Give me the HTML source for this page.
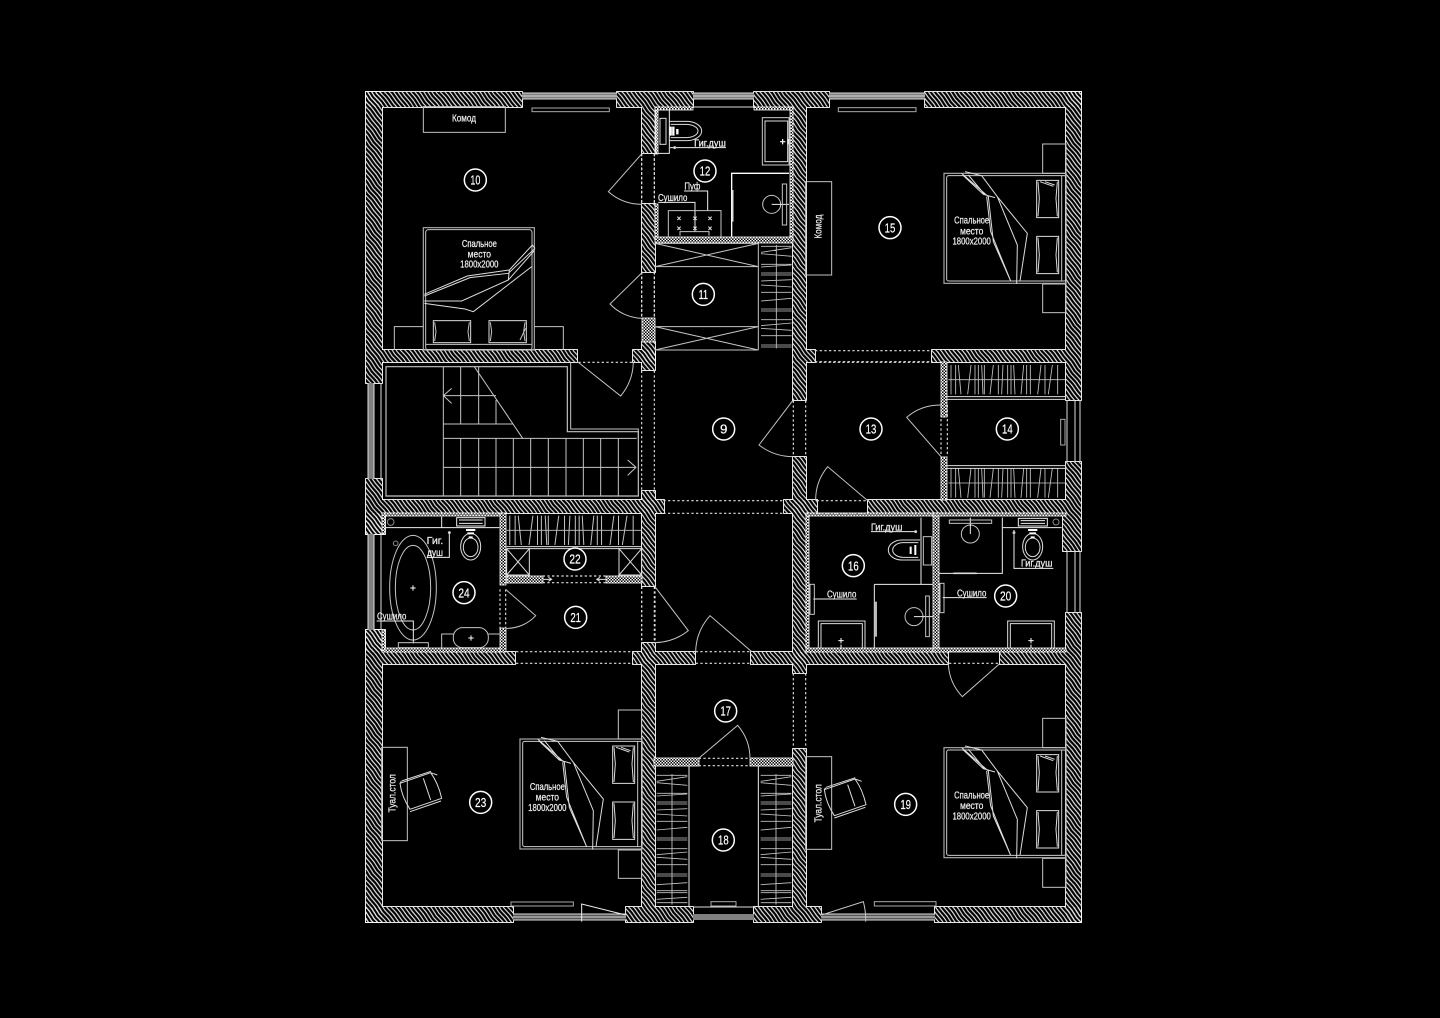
<!DOCTYPE html>
<html><head><meta charset="utf-8"><style>
html,body{margin:0;padding:0;background:#000}
svg{display:block}
text{font-family:"Liberation Sans Narrow","Liberation Sans",sans-serif;fill:#eee;stroke:#eee;stroke-width:.7;text-anchor:middle;font-size:29px}
.n{font-size:40px;fill:#fff;stroke:#fff;stroke-width:.6}
g.z{fill:none;stroke:#c4c4c4;stroke-width:3}
.b{stroke:#fff;stroke-width:4}
.d{stroke:#ddd;stroke-width:3.5;stroke-dasharray:7 7}
.c{stroke:#fff;stroke-width:4.5;fill:#000}
.h{stroke:#c4c4c4;stroke-width:2.6}
</style></head><body>
<svg xmlns="http://www.w3.org/2000/svg" width="1440" height="1018" viewBox="0 0 1440 1018">
<defs>
<pattern id="hatch" width="36" height="3.4" patternUnits="userSpaceOnUse" patternTransform="rotate(52)">
<path d="M0 1.7L9 1.3L18 2.1L27 1.3L36 1.7" fill="none" stroke="#e8e8e8" stroke-width="1.1"/>
</pattern>
<pattern id="dots" width="3" height="3" patternUnits="userSpaceOnUse">
<rect width="1.5" height="1.5" fill="#fff"/><rect x="1.5" y="1.5" width="1.5" height="1.5" fill="#fff"/>
</pattern>
<g id="walls">
<rect x="366" y="92" width="156" height="15"/><rect x="617" y="92" width="76" height="15"/><rect x="754" y="92" width="75" height="15"/><rect x="925" y="92" width="156" height="15"/>
<rect x="366" y="92" width="16" height="291"/><rect x="366" y="479" width="16" height="55"/><rect x="366" y="630" width="16" height="292"/>
<rect x="1066" y="92" width="15" height="308"/><rect x="1066" y="462" width="15" height="89"/><rect x="1066" y="613" width="15" height="309"/>
<rect x="366" y="907" width="147" height="15"/><rect x="626" y="907" width="67" height="15"/><rect x="754" y="907" width="67" height="15"/><rect x="935" y="907" width="146" height="15"/>
<rect x="382" y="350" width="195" height="12"/><rect x="633" y="350" width="22" height="12"/><rect x="642" y="342" width="13" height="28"/>
<rect x="806" y="350" width="9" height="12"/><rect x="932" y="350" width="134" height="12"/><rect x="793" y="107" width="13" height="293"/>
<rect x="642" y="107" width="13" height="46"/><rect x="642" y="204" width="13" height="68"/>
<rect x="642" y="491" width="13" height="95"/><rect x="382" y="500" width="282" height="13"/><rect x="642" y="643" width="13" height="21"/>
<rect x="633" y="652" width="62" height="12"/><rect x="382" y="652" width="133" height="12"/><rect x="751" y="652" width="197" height="12"/><rect x="1000" y="652" width="66" height="12"/>
<rect x="642" y="664" width="13" height="243"/><rect x="784" y="500" width="33" height="13"/><rect x="793" y="457" width="13" height="216"/><rect x="793" y="749" width="13" height="158"/><rect x="868" y="500" width="198" height="13"/>
<rect x="366" y="513" width="19" height="21"/><rect x="366" y="630" width="19" height="22"/><rect x="1063" y="513" width="3" height="38"/>
</g>
<g id="thin">
<rect x="655" y="107" width="3" height="47"/><rect x="655" y="204" width="3" height="34"/><rect x="655" y="107" width="38" height="3"/><rect x="754" y="107" width="39" height="3"/><rect x="790" y="107" width="3" height="130"/><rect x="655" y="237" width="138" height="6"/>
<rect x="642" y="318" width="13" height="24"/>
<rect x="941" y="362" width="6" height="55"/><rect x="941" y="457" width="6" height="43"/>
<rect x="806" y="513" width="3" height="139"/><rect x="806" y="513" width="128" height="3"/><rect x="806" y="648" width="128" height="4"/><rect x="933" y="513" width="6" height="139"/><rect x="933" y="513" width="133" height="3"/><rect x="933" y="648" width="133" height="4"/>
<rect x="382" y="513" width="118" height="3"/><rect x="500" y="513" width="6" height="72"/><rect x="500" y="628" width="6" height="24"/><rect x="382" y="648" width="118" height="4"/><rect x="382" y="513" width="3" height="21"/><rect x="382" y="630" width="3" height="20"/>
<rect x="507" y="576" width="36" height="7"/><rect x="606" y="576" width="36" height="7"/>
<rect x="654" y="758" width="45" height="8"/><rect x="750" y="758" width="43" height="8"/>
</g>
<path id="hk" class="h" d="M8 0V88M22 0V88M30 0L38 88M58 88L68 0M80 0V88M90 0V88M100 0L104 88M108 0V88M125 88L135 0M150 0V88M160 88L164 0M178 0V88M188 0V88M196 0L200 88M218 88L226 0M235 0V88M246 0V88M268 88L278 0M290 0V88M300 88L312 0M328 0V88M0 44H350"/>
<path id="hv" class="h" d="M0 4H92M0 22L92 8M0 26L92 34M0 58H92M0 66L92 60M0 84H92M0 90H92M0 108L92 104M0 120L92 126M0 142H92M0 168L92 160M0 192H92M0 198H92M0 224H92M0 242L92 234M0 250L92 256M0 272H92M0 300H92M0 306H92M0 332L92 326M0 350H92M0 356H92M0 376L92 370M0 386H92M46 0V392"/>
<g id="bed">
<rect x="912" y="265" width="366" height="330" stroke="#aaa" stroke-width="3.5"/>
<rect x="920" y="272" width="358" height="316" rx="6" stroke="#ccc"/>
<path d="M1265 272V588"/>
<path stroke="#ddd" d="M1190 286H1256V398H1190ZM1194 290L1198 340L1194 394M1252 290L1248 340L1252 394M1200 290L1240 304M1215 290L1244 300"/>
<path stroke="#ddd" d="M1190 454H1256V566H1190ZM1194 458L1198 510L1194 562M1252 458L1248 510L1252 562"/>
<path stroke="#ddd" d="M965 265L1045 335L1060 470L1112 588M975 260L1025 272L1072 335L1132 480L1130 597M968 270L1030 328L1065 338M1025 272L1072 335L1162 445L1140 588M1040 335L1052 440L1112 588M985 270L1035 330"/>
</g>
<g id="chair">
<path stroke="#ddd" d="M120 400L212 368Q235 400 245 445L150 478Q125 440 120 400ZM125 393L213 364M150 485L243 453M190 385L212 450M120 400L124 394M212 368L232 375"/>
</g>
</defs>
<rect width="1440" height="1018" fill="#000"/>

<use href="#walls" fill="none" stroke="#fff" stroke-width="1.8"/>
<use href="#walls" fill="#000"/>
<use href="#walls" fill="url(#hatch)"/>
<use href="#thin" fill="#000" stroke="#fff" stroke-width=".8"/>
<use href="#thin" fill="url(#dots)"/>

<!-- windows -->
<g fill="none">
<rect x="522" y="93" width="95" height="6" fill="#808080"/><rect x="829" y="93" width="96" height="6" fill="#808080"/><rect x="693" y="93" width="61" height="6" fill="#808080"/>
<path stroke="#ddd" stroke-width="1" d="M522 93H617M522 96H617M522 99H617M829 93H925M829 96H925M829 99H925M693 93H754M693 96H754M693 99H754M693 107H754"/>
<rect x="368" y="383" width="6" height="96" fill="#808080"/><rect x="368" y="534" width="6" height="96" fill="#808080"/>
<path stroke="#ddd" stroke-width="1" d="M368 383V479M374 383V479M381 383V479M368 534V630M374 534V630M381 534V630"/>
<rect x="513" y="914" width="113" height="6" fill="#555"/><rect x="821" y="914" width="114" height="6" fill="#555"/><rect x="693" y="914" width="61" height="6" fill="#808080"/>
<path stroke="#ddd" stroke-width="1" d="M513 914H626M513 917H626M513 920H626M821 914H935M821 917H935M821 920H935M693 907H754"/>
<path stroke="#ddd" stroke-width="1" d="M1067 400V462M1075 400V462M1080 400V462M1067 551V613M1075 551V613M1080 551V613"/>
</g>

<!-- Zoom 1 : room 10 -->
<g class="z" transform="translate(360 85) scale(.33333)">
<rect x="190" y="65" width="246" height="77"/>
<rect x="516" y="69" width="232" height="11" stroke="#aaa"/>
<rect x="190" y="428" width="333" height="367" stroke="#aaa" stroke-width="3.5"/>
<rect x="197" y="434" width="319" height="361" rx="8"/>
<path d="M197 778H516M103 795V725H190M523 725H610V795"/>
<rect x="220" y="707" width="112" height="66" stroke="#ddd"/><rect x="387" y="707" width="112" height="66" stroke="#ddd"/>
<path d="M224 712L228 740L224 768M328 712L324 740L328 768M391 712L395 740L391 768M495 712L491 740L495 768M480 765L497 730"/>
<path stroke="#ddd" d="M193 628L322 573L448 555L517 480L525 490M193 633L330 578L445 565L525 490M193 648L305 648L445 585L522 498M193 655L315 672L340 680L515 545M448 555L445 585"/>
<circle class="c" cx="346" cy="285" r="33"/>
<text class="n" x="346" y="299" textLength="30" lengthAdjust="spacingAndGlyphs">10</text>
<text x="312" y="110" textLength="72" lengthAdjust="spacingAndGlyphs">Комод</text>
<text x="358" y="486" textLength="105" lengthAdjust="spacingAndGlyphs">Спальное</text>
<text x="358" y="517" textLength="70" lengthAdjust="spacingAndGlyphs">место</text>
<text x="358" y="548" textLength="115" lengthAdjust="spacingAndGlyphs">1800x2000</text>
<path d="M845 207L745 320A151 151 0 0 0 845 358M847 562L750 657A138 138 0 0 0 847 700"/>
<path class="d" d="M845 207V358M883 207V358M845 562V697M883 562V697"/>
</g>

<!-- Zoom 2 : rooms 11,12,15 -->
<g class="z" transform="translate(640 85) scale(.33333)">
<path stroke="#eee" d="M48 75H88V205H48Z"/>
<rect x="60" y="100" width="18" height="78" stroke="#ddd"/>
<path stroke="#ddd" d="M88 109H140A45 29 0 0 1 140 167H88M92 118H138A36 20 0 0 1 138 158H92"/>
<path stroke="#fff" stroke-width="7" d="M92 125V152M100 125V152M112 132V148"/>
<path stroke="#eee" d="M90 188H258"/><circle cx="104" cy="188" r="3" fill="#fff"/>
<text x="210" y="185" textLength="95" lengthAdjust="spacingAndGlyphs">Гиг.душ</text>
<rect x="367" y="98" width="80" height="142" stroke="#ccc"/><rect x="375" y="108" width="68" height="122" stroke="#ddd"/>
<path stroke="#fff" stroke-width="3.5" d="M420 170H436M428 162V178M444 162V178"/>
<path class="b" d="M447 265H275V455"/><path stroke="#ddd" stroke-width="5" d="M278 315V410"/>
<circle cx="395" cy="358" r="27"/><path stroke="#eee" d="M395 358H447"/><rect x="427" y="297" width="13" height="123"/>
<path stroke="#eee" d="M132 318H203V378M55 352H165V440"/>
<text x="157" y="313" textLength="48" lengthAdjust="spacingAndGlyphs">Пуф</text>
<text x="98" y="348" textLength="88" lengthAdjust="spacingAndGlyphs">Сушило</text>
<path d="M85 455V377H243V455M120 452V440H207V452"/>
<path stroke="#ddd" d="M112 395L122 405M122 395L112 405M160 395L170 405M170 395L160 405M205 395L215 405M215 395L205 405M112 425L122 435M122 425L112 435M160 425L170 435M170 425L160 435M205 425L215 435M215 425L205 435"/>
<path d="M45 475H355M45 545H355M45 725H355M45 795H355M45 475L355 545M355 475L45 545M45 725L355 795M355 725L45 795M355 475V795"/>
<svg x="363" y="480" width="92" height="310"><use href="#hv"/></svg>
<rect x="595" y="68" width="233" height="12" stroke="#aaa"/>
<rect x="497" y="290" width="78" height="280"/>
<text transform="translate(544 425) rotate(-90)" textLength="72" lengthAdjust="spacingAndGlyphs">Комод</text>
<use href="#bed"/><rect x="1208" y="177" width="70" height="88"/><rect x="1208" y="597" width="70" height="86"/>
<text x="995" y="416" textLength="105" lengthAdjust="spacingAndGlyphs">Спальное</text>
<text x="995" y="448" textLength="70" lengthAdjust="spacingAndGlyphs">место</text>
<text x="995" y="479" textLength="115" lengthAdjust="spacingAndGlyphs">1800x2000</text>
<circle class="c" cx="195" cy="258" r="33"/><text class="n" x="195" y="272" textLength="32" lengthAdjust="spacingAndGlyphs">12</text>
<circle class="c" cx="190" cy="628" r="33"/><text class="n" x="190" y="642" textLength="28" lengthAdjust="spacingAndGlyphs">11</text>
<circle class="c" cx="750" cy="428" r="33"/><text class="n" x="750" y="442" textLength="32" lengthAdjust="spacingAndGlyphs">15</text>
<path class="d" d="M5 205V357M43 205V357M5 560V697M43 560V697M525 797H875M525 830H875"/>
</g>

<!-- Zoom 3 : stairs, 21,22,24 -->
<g class="z" transform="translate(360 350) scale(.33333)">
<path stroke="#c4c4c4" stroke-width="3.5" d="M78 50H622V245H835V438H78Z"/>
<path d="M632 37V237H835V265"/>
<path d="M250 50V438M302 50V222M356 50V222M408 150V222M250 222H460M250 265H830M250 137H408M343 50L488 265M250 352H825M803 330L828 352L803 376M275 115L250 137L275 160M302 265V438M356 265V438M408 265V438M460 265V438M512 265V438M565 265V438M618 265V438M670 265V438M722 265V438M775 265V438M78 438H830"/>
<path d="M655 37L782 138A165 165 0 0 0 820 37"/>
<path class="d" d="M655 37H820M845 62V425M883 62V425M845 710V880M883 710V880M420 718V835M437 718V835M468 905H818M468 940H818M548 678H738M548 698H738"/>
<path d="M437 718L527 797A118 118 0 0 1 437 835"/>
<path stroke="#eee" d="M75 533H418M245 500V533"/>
<rect x="290" y="503" width="85" height="25" stroke="#eee" fill="#000"/><path stroke="#eee" d="M297 510H368M297 520H368"/>
<circle cx="92" cy="516" r="10" stroke="#888"/>
<ellipse cx="332" cy="590" rx="30" ry="40" stroke="#ddd"/><ellipse cx="332" cy="592" rx="22" ry="28" stroke="#ddd"/>
<path stroke="#fff" stroke-width="6" d="M318 540H346M322 550H342M326 562H338"/>
<ellipse cx="159" cy="713" rx="70" ry="157"/><ellipse cx="159" cy="713" rx="53" ry="127"/>
<path stroke="#fff" d="M151 714H167M159 706V722"/>
<circle cx="107" cy="580" r="7" stroke="#888"/>
<text x="225" y="582" textLength="50" lengthAdjust="spacingAndGlyphs">Гиг.</text>
<text x="225" y="618" textLength="48" lengthAdjust="spacingAndGlyphs">душ</text>
<path stroke="#eee" d="M268 545V622H200M50 813H160V880"/><circle cx="268" cy="548" r="3" fill="#fff"/>
<text x="95" y="808" textLength="88" lengthAdjust="spacingAndGlyphs">Сушило</text>
<rect x="115" y="878" width="90" height="15"/>
<rect x="280" y="833" width="105" height="60" rx="28"/>
<path d="M245 893V852H280M385 852H418"/><path stroke="#fff" d="M325 864H341M333 856V872"/>
<use href="#hk" transform="translate(440 497) scale(1.157 1)"/>
<path stroke="#ddd" d="M440 590H845M440 596H845M440 596V675L508 596V675H440L508 675L440 596M845 596V675L777 596V675H845L777 675L845 596"/>
<path stroke="#ddd" d="M548 688H575M565 682L575 688L565 694M738 688H710M720 682L710 688L720 694"/>
<circle class="c" cx="312" cy="728" r="33"/><text class="n" x="312" y="742" textLength="34" lengthAdjust="spacingAndGlyphs">24</text>
<circle class="c" cx="647" cy="802" r="33"/><text class="n" x="647" y="816" textLength="32" lengthAdjust="spacingAndGlyphs">21</text>
<circle class="c" cx="645" cy="627" r="33"/><text class="n" x="645" y="641" textLength="34" lengthAdjust="spacingAndGlyphs">22</text>
</g>

<!-- Zoom 4 : 9,13,14,16,20 -->
<g class="z" transform="translate(640 350) scale(.33333)">
<path class="d" d="M460 152V320M497 152V320M903 165V320M922 165V320M530 452H683M530 490H683M70 452H433M70 490H433M5 710V878M45 710V878M167 905H335M167 940H335M927 905H1078M927 940H1078M523 37H875"/>
<path d="M458 152L357 285A168 168 0 0 0 458 320M903 320L800 202A155 155 0 0 1 903 165M683 452L563 350A156 156 0 0 0 527 452M45 710L145 842A168 168 0 0 1 45 878M335 905L210 797A168 168 0 0 0 167 905"/>
<use href="#hk" transform="translate(925 45)"/><use href="#hk" transform="translate(925 355)"/>
<path stroke="#ddd" d="M922 140H1278M922 148H1278M922 347H1278M922 355H1278"/>
<rect x="1262" y="208" width="13" height="77" stroke="#aaa"/>
<path stroke="#eee" d="M843 503V703M703 703H878M703 703V895"/>
<path stroke="#ddd" stroke-width="5" d="M708 755V860"/>
<path stroke="#ddd" d="M840 570H785A40 30 0 0 0 785 630H840M835 578H790A32 22 0 0 0 790 622H835"/>
<rect x="850" y="560" width="25" height="85"/><path stroke="#fff" stroke-width="6" d="M812 590V612M826 585V615"/>
<circle cx="822" cy="800" r="27"/><path stroke="#eee" d="M822 800H878"/><rect x="857" y="738" width="11" height="122"/>
<path stroke="#eee" d="M693 545H830"/><circle cx="827" cy="545" r="3" fill="#fff"/>
<text x="740" y="541" textLength="95" lengthAdjust="spacingAndGlyphs">Гиг.душ</text>
<rect x="510" y="703" width="13" height="90"/><path stroke="#eee" d="M520 747H650"/>
<text x="605" y="743" textLength="88" lengthAdjust="spacingAndGlyphs">Сушило</text>
<path stroke="#ddd" d="M535 895V813H675V895M543 895V821H667V895"/><path stroke="#fff" d="M595 872H611M603 864V880M603 884V893"/>
<path stroke="#eee" d="M897 670H1087V503"/><path stroke="#ddd" stroke-width="5" d="M940 670H1010"/>
<circle cx="991" cy="552" r="27"/><path stroke="#eee" d="M991 503V552"/><rect x="928" y="510" width="127" height="10"/>
<path stroke="#eee" d="M1088 533H1265M1122 540V655H1240"/><circle cx="1122" cy="548" r="3" fill="#fff"/>
<rect x="1135" y="505" width="87" height="23" stroke="#eee"/><path stroke="#eee" d="M1142 512H1215M1142 520H1215"/>
<ellipse cx="1178" cy="590" rx="30" ry="40" stroke="#ddd"/><ellipse cx="1178" cy="592" rx="22" ry="28" stroke="#ddd"/>
<path stroke="#fff" stroke-width="6" d="M1164 540H1192M1168 550H1188M1172 562H1184"/>
<circle cx="1248" cy="516" r="9" stroke="#888"/>
<text x="1190" y="649" textLength="95" lengthAdjust="spacingAndGlyphs">Гиг.душ</text>
<rect x="900" y="700" width="12" height="88"/><path stroke="#eee" d="M908 743H1040"/>
<text x="995" y="739" textLength="88" lengthAdjust="spacingAndGlyphs">Сушило</text>
<path stroke="#ddd" d="M1103 895V813H1243V895M1111 895V821H1235V895"/><path stroke="#fff" d="M1165 872H1181M1173 864V880M1173 884V893"/>
<circle class="c" cx="251" cy="237" r="33"/><text class="n" x="251" y="251">9</text>
<circle class="c" cx="693" cy="237" r="33"/><text class="n" x="693" y="251" textLength="32" lengthAdjust="spacingAndGlyphs">13</text>
<circle class="c" cx="1102" cy="237" r="33"/><text class="n" x="1102" y="251" textLength="32" lengthAdjust="spacingAndGlyphs">14</text>
<circle class="c" cx="640" cy="647" r="33"/><text class="n" x="640" y="661" textLength="32" lengthAdjust="spacingAndGlyphs">16</text>
<circle class="c" cx="1097" cy="738" r="33"/><text class="n" x="1097" y="752" textLength="34" lengthAdjust="spacingAndGlyphs">20</text>
</g>

<!-- Zoom 5 : room 23 -->
<g class="z" transform="translate(360 650) scale(.33333)">
<rect x="65" y="292" width="77" height="280"/>
<text transform="translate(106 430) rotate(-90)" textLength="115" lengthAdjust="spacingAndGlyphs">Туал.стол</text>
<use href="#chair"/>
<use href="#bed" transform="translate(-432 2)"/>
<rect x="775" y="180" width="70" height="87"/><rect x="775" y="600" width="70" height="85"/>
<text x="562" y="420" textLength="105" lengthAdjust="spacingAndGlyphs">Спальное</text>
<text x="562" y="452" textLength="70" lengthAdjust="spacingAndGlyphs">место</text>
<text x="562" y="483" textLength="115" lengthAdjust="spacingAndGlyphs">1800x2000</text>
<circle class="c" cx="362" cy="457" r="33"/><text class="n" x="362" y="471" textLength="34" lengthAdjust="spacingAndGlyphs">23</text>
<rect x="453" y="756" width="187" height="12" stroke="#aaa"/>
<path stroke="#eee" d="M797 795L665 762V815"/>
</g>

<!-- Zoom 6 : 17,18,19 -->
<g class="z" transform="translate(640 650) scale(.33333)">
<path class="d" d="M460 70V298M497 70V298M176 325H330M176 347H330"/>
<path d="M176 325L293 226A154 154 0 0 1 330 325M1078 42L967 140A153 153 0 0 1 925 42M545 795L670 755Q678 785 677 815"/>
<use href="#hv" transform="translate(50 372)"/><use href="#hv" transform="translate(362 372)"/>
<path stroke="#eee" d="M147 347V770M355 347V770"/>
<rect x="213" y="755" width="75" height="13" stroke="#aaa"/>
<rect x="703" y="755" width="185" height="13" stroke="#aaa"/>
<rect x="497" y="320" width="78" height="278"/>
<text transform="translate(544 460) rotate(-90)" textLength="115" lengthAdjust="spacingAndGlyphs">Туал.стол</text>
<use href="#chair" transform="translate(433 19)"/>
<use href="#bed" transform="translate(0 28)"/>
<rect x="1208" y="205" width="70" height="88"/><rect x="1208" y="625" width="70" height="87"/>
<text x="995" y="446" textLength="105" lengthAdjust="spacingAndGlyphs">Спальное</text>
<text x="995" y="477" textLength="70" lengthAdjust="spacingAndGlyphs">место</text>
<text x="995" y="508" textLength="115" lengthAdjust="spacingAndGlyphs">1800x2000</text>
<circle class="c" cx="257" cy="183" r="33"/><text class="n" x="257" y="197" textLength="32" lengthAdjust="spacingAndGlyphs">17</text>
<circle class="c" cx="250" cy="570" r="33"/><text class="n" x="250" y="584" textLength="32" lengthAdjust="spacingAndGlyphs">18</text>
<circle class="c" cx="797" cy="463" r="33"/><text class="n" x="797" y="477" textLength="32" lengthAdjust="spacingAndGlyphs">19</text>
</g>
</svg>
</body></html>
